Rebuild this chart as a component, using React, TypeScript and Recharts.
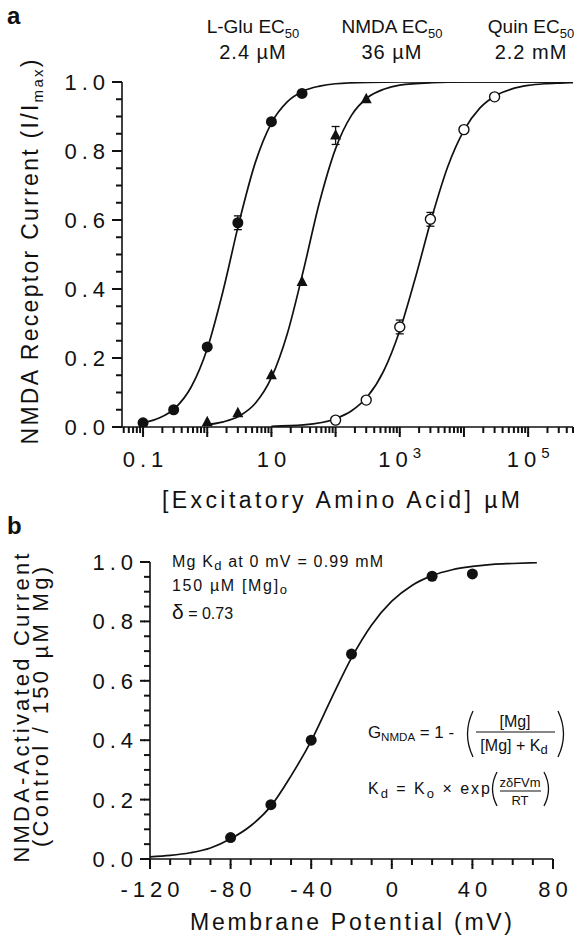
import React from 'react';
import { ComposedChart, Line, Scatter, XAxis, YAxis, ErrorBar } from 'recharts';

const FONT = '"Liberation Sans", Arial, Helvetica, sans-serif';
const INK = '#111';

// ---------- Panel a: measured points ----------
const gluConc = [0.1, 0.3, 1, 3, 10, 30];
const gluResp = [0.012, 0.05, 0.232, 0.592, 0.885, 0.967];
const gluErr = [0, 0, 0, 0.02, 0, 0];

const nmdaConc = [1, 3, 10, 30, 100, 300];
const nmdaResp = [0.014, 0.04, 0.15, 0.42, 0.845, 0.95];
const nmdaErr = [0, 0, 0, 0, 0.026, 0];

const quinConc = [100, 300, 1000, 3000, 10000, 30000];
const quinResp = [0.02, 0.078, 0.29, 0.602, 0.862, 0.957];
const quinErr = [0, 0, 0.02, 0.02, 0, 0];

// ---------- Panel a: fitted curves ----------
const gluFitConc = [0.09, 0.1, 0.178, 0.316, 0.562, 1, 1.778, 3.162, 5.623, 10, 17.78, 31.62, 56.23, 100, 316.2, 1000, 10000, 500000];
const gluFitResp = [0.01, 0.012, 0.026, 0.055, 0.116, 0.227, 0.397, 0.596, 0.767, 0.881, 0.943, 0.974, 0.988, 0.995, 0.999, 1.0, 1.0, 1.0];

const nmdaFitConc = [0.9, 1.778, 3.162, 5.623, 10, 17.78, 31.62, 56.23, 100, 177.8, 316.2, 562.3, 1000, 3162, 10000, 500000];
const nmdaFitResp = [0.006, 0.015, 0.032, 0.069, 0.143, 0.272, 0.455, 0.652, 0.807, 0.904, 0.955, 0.979, 0.991, 0.998, 1.0, 1.0];

const quinFitConc = [10, 31.62, 100, 177.8, 316.2, 562.3, 1000, 1778, 3162, 5623, 10000, 17783, 31623, 56234, 100000, 177828, 316228, 500000];
const quinFitResp = [0.002, 0.006, 0.024, 0.047, 0.089, 0.163, 0.28, 0.437, 0.608, 0.756, 0.86, 0.925, 0.961, 0.98, 0.99, 0.995, 0.997, 0.998];

// ---------- Panel b ----------
const vmPts = [-80, -60, -40, -20, 20, 40];
const currPts = [0.072, 0.183, 0.4, 0.69, 0.952, 0.96];
const vmFit = [-120, -110, -100, -90, -80, -70, -60, -50, -40, -30, -20, -10, 0, 10, 20, 30, 40, 50, 60, 72];
const currFit = [0.007, 0.012, 0.021, 0.037, 0.068, 0.112, 0.178, 0.28, 0.398, 0.54, 0.677, 0.788, 0.868, 0.921, 0.954, 0.974, 0.985, 0.992, 0.995, 0.998];

// ---------- Tick labels ----------
const topXTickValues = [0.1, 10, 1000, 100000];
const topXTickLabels = ['0.1', '10', '10^3', '10^5'];
const yTickValues = [0, 0.2, 0.4, 0.6, 0.8, 1.0];
const yTickLabels = ['0.0', '0.2', '0.4', '0.6', '0.8', '1.0'];
const botXTickValues = [-120, -80, -40, 0, 40, 80];
const botXTickLabels = ['-120', '-80', '-40', '0', '40', '80'];

// ---------- Annotation text ----------
const agonists = ['L-Glu', 'NMDA', 'Quin'];
const ec50Labels = ['2.4 \u00b5M', '36 \u00b5M', '2.2 mM'];

type P = { x: number; y: number; err: number };
const pts = (xs: number[], ys: number[], es?: number[]): P[] =>
  xs.map((x, i) => ({ x, y: ys[i], err: es ? es[i] : 0 }));

const gluPts = pts(gluConc, gluResp, gluErr);
const nmdaPts = pts(nmdaConc, nmdaResp, nmdaErr);
const quinPts = pts(quinConc, quinResp, quinErr);
const gluFit = pts(gluFitConc, gluFitResp);
const nmdaFit = pts(nmdaFitConc, nmdaFitResp);
const quinFit = pts(quinFitConc, quinFitResp);
const vmData = pts(vmPts, currPts);
const vmFitData = pts(vmFit, currFit);

const topXTicks: number[] = [];
for (let d = -2; d <= 5; d++) {
  for (let m = 1; m <= 9; m++) {
    const v = m * Math.pow(10, d);
    if (v >= 0.047 && v <= 500001) topXTicks.push(v);
  }
}
const yTicks = Array.from({ length: 21 }, (_, i) => i / 20);
const botXTicks = Array.from({ length: 21 }, (_, i) => -120 + i * 10);

const tickFont: React.CSSProperties = { fontFamily: FONT, fontSize: 22, fill: INK, letterSpacing: 5 };

function labelFor(v: number, vals: number[], labels: string[]) {
  const i = vals.findIndex((l) => Math.abs(l - v) <= 1e-6 * Math.max(1, Math.abs(l)));
  return i >= 0 ? labels[i] : null;
}
const isDecade = (v: number) => Math.abs(Math.log10(v) - Math.round(Math.log10(v))) < 1e-9;

// native tick lines (minor length); majors get an extension drawn in the tick component
const MINOR = 6;
const MAJOR = 10;
const tickLineStyle = { stroke: INK, strokeWidth: 2 };

const PowLabel = ({ lab, x, y }: { lab: string; x: number; y: number }) => {
  const [base, exp] = lab.split('^');
  return (
    <text x={x} y={y} dx={2.5} textAnchor="middle" style={tickFont}>
      {base}
      {exp ? (
        <tspan dy={-9} fontSize={15}>
          {exp}
        </tspan>
      ) : null}
    </text>
  );
};

// (x, y) arrive at the outer end of the native tick line
const TopXTick = (props: any) => {
  const x = Number(props.x);
  const y = Number(props.y);
  const v = props.payload.value;
  const major = isDecade(v);
  const lab = labelFor(v, topXTickValues, topXTickLabels);
  return (
    <g>
      {major ? <rect x={x - 1} y={y - 1} width={2} height={MAJOR - MINOR + 1} fill={INK} /> : null}
      {lab ? <PowLabel lab={lab} x={x} y={y + 40 - MINOR} /> : null}
    </g>
  );
};

const BotXTick = (props: any) => {
  const x = Number(props.x);
  const y = Number(props.y);
  const lab = labelFor(props.payload.value, botXTickValues, botXTickLabels);
  return (
    <g>
      {lab ? <rect x={x - 1} y={y - 1} width={2} height={MAJOR - MINOR + 1} fill={INK} /> : null}
      {lab ? <PowLabel lab={lab} x={x} y={y + 38 - MINOR} /> : null}
    </g>
  );
};

const YTick = (props: any) => {
  const x = Number(props.x);
  const y = Number(props.y);
  const lab = labelFor(props.payload.value, yTickValues, yTickLabels);
  return (
    <g>
      {lab ? <rect x={x - (MAJOR - MINOR)} y={y - 1} width={MAJOR - MINOR + 1} height={2} fill={INK} /> : null}
      {lab ? (
        <text x={x - 12 + MINOR} y={y + 8} textAnchor="end" style={tickFont}>
          {lab}
        </text>
      ) : null}
    </g>
  );
};

const FilledCircle = (p: any) => <circle cx={p.cx} cy={p.cy} r={5.5} fill={INK} />;
const OpenCircle = (p: any) => <circle cx={p.cx} cy={p.cy} r={5} fill="#fff" stroke={INK} strokeWidth={1.4} />;
const Triangle = (p: any) => (
  <path d={`M${p.cx},${p.cy - 6.5} L${p.cx + 5.5},${p.cy + 4} L${p.cx - 5.5},${p.cy + 4} Z`} fill={INK} />
);
const NoShape = () => <g />;

const axisLineStyle = { stroke: INK, strokeWidth: 1.6 };
const curve = { type: 'monotone' as const, dot: false, stroke: INK, strokeWidth: 1.7, isAnimationActive: false, dataKey: 'y' };

const legendCenters = [253, 392, 531];

export default function App() {
  return (
    <div style={{ position: 'absolute', left: 0, top: 0, width: 583, height: 937, background: '#fff', fontFamily: FONT }}>
      <div style={{ position: 'absolute', left: 0, top: 0 }}>
        <ComposedChart width={583} height={520} margin={{ top: 82, right: 10, bottom: 0, left: 0 }}>
          <XAxis
            dataKey="x"
            type="number"
            scale="log"
            domain={[0.047, 500000]}
            allowDataOverflow
            ticks={topXTicks}
            interval={0}
            tick={(p: any) => <TopXTick {...p} />}
            tickLine={tickLineStyle}
            tickSize={MINOR}
            tickMargin={0}
            axisLine={axisLineStyle}
            height={93}
          />
          <YAxis
            dataKey="y"
            type="number"
            domain={[0, 1]}
            allowDataOverflow
            ticks={yTicks}
            interval={0}
            tick={(p: any) => <YTick {...p} />}
            tickLine={tickLineStyle}
            tickSize={MINOR}
            tickMargin={0}
            axisLine={axisLineStyle}
            width={122}
          />
          <Line data={gluFit} {...curve} />
          <Line data={nmdaFit} {...curve} />
          <Line data={quinFit} {...curve} />
          <Scatter data={gluPts.filter((d) => d.err > 0)} shape={NoShape} isAnimationActive={false}>
            <ErrorBar dataKey="err" direction="y" width={4} stroke={INK} strokeWidth={1.3} />
          </Scatter>
          <Scatter data={nmdaPts.filter((d) => d.err > 0)} shape={NoShape} isAnimationActive={false}>
            <ErrorBar dataKey="err" direction="y" width={4} stroke={INK} strokeWidth={1.3} />
          </Scatter>
          <Scatter data={quinPts.filter((d) => d.err > 0)} shape={NoShape} isAnimationActive={false}>
            <ErrorBar dataKey="err" direction="y" width={4} stroke={INK} strokeWidth={1.3} />
          </Scatter>
          <Scatter data={gluPts} shape={FilledCircle} isAnimationActive={false} />
          <Scatter data={nmdaPts} shape={Triangle} isAnimationActive={false} />
          <Scatter data={quinPts} shape={OpenCircle} isAnimationActive={false} />
        </ComposedChart>
      </div>
      <div style={{ position: 'absolute', left: 0, top: 520 }}>
        <ComposedChart width={583} height={417} margin={{ top: 42, right: 30, bottom: 0, left: 0 }}>
          <XAxis
            dataKey="x"
            type="number"
            domain={[-120, 80]}
            allowDataOverflow
            ticks={botXTicks}
            interval={0}
            tick={(p: any) => <BotXTick {...p} />}
            tickLine={tickLineStyle}
            tickSize={MINOR}
            tickMargin={0}
            axisLine={axisLineStyle}
            height={78}
          />
          <YAxis
            dataKey="y"
            type="number"
            domain={[0, 1]}
            allowDataOverflow
            ticks={yTicks}
            interval={0}
            tick={(p: any) => <YTick {...p} />}
            tickLine={tickLineStyle}
            tickSize={MINOR}
            tickMargin={0}
            axisLine={axisLineStyle}
            width={150}
          />
          <Line data={vmFitData} {...curve} />
          <Scatter data={vmData} shape={FilledCircle} isAnimationActive={false} />
        </ComposedChart>
      </div>

      <svg
        width={583}
        height={937}
        style={{ position: 'absolute', left: 0, top: 0, pointerEvents: 'none' }}
        fontFamily={FONT}
        fill={INK}
      >
        <text x={7} y={24} fontSize={24} fontWeight="bold">a</text>
        <text x={7} y={534} fontSize={24} fontWeight="bold">b</text>

        {agonists.map((a, i) => (
          <g key={a}>
            <text x={legendCenters[i]} y={33} fontSize={19} textAnchor="middle">
              {a} EC<tspan fontSize={13} dy={5}>50</tspan>
            </text>
            <text x={legendCenters[i]} y={59} fontSize={20} textAnchor="middle" letterSpacing={1}>
              {ec50Labels[i]}
            </text>
          </g>
        ))}

        <text transform="translate(38,252) rotate(-90)" fontSize={23} textAnchor="middle" textLength={385} lengthAdjust="spacing">
          NMDA Receptor Current (I/I<tspan fontSize={15} dy={5}>max</tspan><tspan dy={-5}>)</tspan>
        </text>
        <text x={341} y={508} fontSize={23} textAnchor="middle" textLength={358} lengthAdjust="spacing">
          [Excitatory Amino Acid] {'\u00b5'}M
        </text>

        <text transform="translate(29,708) rotate(-90)" fontSize={22} textAnchor="middle" textLength={309} lengthAdjust="spacing">
          NMDA-Activated Current
        </text>
        <text transform="translate(48,707) rotate(-90)" fontSize={22} textAnchor="middle" textLength={280} lengthAdjust="spacing">
          (Control / 150 {'\u00b5'}M Mg)
        </text>
        <text x={351} y={930} fontSize={23} textAnchor="middle" textLength={322} lengthAdjust="spacing">
          Membrane Potential (mV)
        </text>

        <text x={172} y={567} fontSize={16} textLength={211} lengthAdjust="spacing">
          Mg K<tspan fontSize={13} dy={3}>d</tspan><tspan dy={-3}> at 0 mV = 0.99 mM</tspan>
        </text>
        <text x={172} y={591} fontSize={16} textLength={115} lengthAdjust="spacing">
          150 {'\u00b5'}M [Mg]<tspan fontSize={13} dy={3}>o</tspan>
        </text>
        <text x={172} y={619} fontSize={16}>
          <tspan fontSize={21}>{'\u03b4'}</tspan> = 0.73
        </text>

        <text x={368} y={738} fontSize={16} textLength={86} lengthAdjust="spacingAndGlyphs">
          G<tspan fontSize={11} dy={3}>NMDA</tspan><tspan dy={-3}> = 1 -</tspan>
        </text>
        <path d="M473,711 Q462,734 473,757" stroke={INK} strokeWidth={1.3} fill="none" />
        <text x={515} y={727} fontSize={16} textAnchor="middle">[Mg]</text>
        <line x1={476} x2={555} y1={732} y2={732} stroke={INK} strokeWidth={1.2} />
        <text x={514} y={751} fontSize={16} textAnchor="middle">
          [Mg] + K<tspan fontSize={13} dy={3}>d</tspan>
        </text>
        <path d="M558,711 Q569,734 558,757" stroke={INK} strokeWidth={1.3} fill="none" />

        <text x={368} y={794} fontSize={16} textLength={122} lengthAdjust="spacing">
          K<tspan fontSize={13} dy={4}>d</tspan><tspan dy={-4}> = K</tspan><tspan fontSize={13} dy={4}>o</tspan><tspan dy={-4}> {'\u00d7'} exp</tspan>
        </text>
        <path d="M497,772 Q488,789 497,806" stroke={INK} strokeWidth={1.3} fill="none" />
        <text x={520} y={787} fontSize={13} textAnchor="middle">z{'\u03b4'}FVm</text>
        <line x1={500} x2={541} y1={791} y2={791} stroke={INK} strokeWidth={1.1} />
        <text x={520} y={805} fontSize={13} textAnchor="middle">RT</text>
        <path d="M544,772 Q553,789 544,806" stroke={INK} strokeWidth={1.3} fill="none" />
      </svg>
    </div>
  );
}
